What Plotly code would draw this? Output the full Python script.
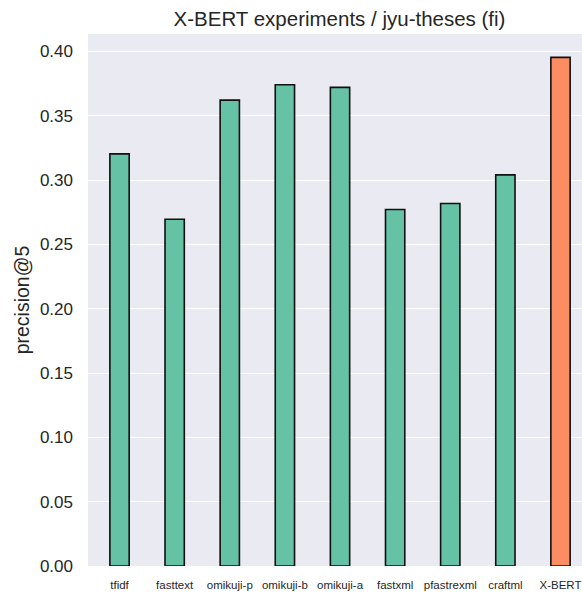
import plotly.graph_objects as go

methods = ["tfidf", "fasttext", "omikuji-p", "omikuji-b", "omikuji-a",
           "fastxml", "pfastrexml", "craftml", "X-BERT"]
precision_at_5 = [0.3203, 0.2695, 0.3621, 0.3741, 0.3720,
                  0.2771, 0.2817, 0.3040, 0.3953]
bar_colors = ["#66c2a5"] * 8 + ["#fc8d62"]
y_ticks = [0.00, 0.05, 0.10, 0.15, 0.20, 0.25, 0.30, 0.35, 0.40]

W, H = 582, 592
FONT = "Liberation Sans, Arial, sans-serif"
TXT = "#262626"

fig = go.Figure(go.Bar(
    x=list(range(len(methods))),
    y=precision_at_5,
    width=0.35,
    marker=dict(color=bar_colors, line=dict(color="#111111", width=1.6)),
))

fig.update_layout(
    width=W, height=H,
    margin=dict(l=88, r=0, t=34, b=26),
    paper_bgcolor="white",
    plot_bgcolor="#EAEAF2",
    showlegend=False,
    font=dict(family=FONT, color=TXT),
    title=dict(text="X-BERT experiments / jyu-theses (fi)",
               font=dict(size=20.5, color=TXT, family=FONT),
               x=339.5 / W, xanchor="center", xref="container",
               y=1 - 19 / H, yanchor="middle", yref="container"),
    xaxis=dict(
        tickmode="array",
        tickvals=list(range(len(methods))),
        ticktext=methods,
        range=[-0.572, 8.39],
        showgrid=False, zeroline=False, showline=False,
        ticks="", tickfont=dict(size=11.5, color=TXT),
        ticklabelstandoff=10,
    ),
    yaxis=dict(
        range=[0, 0.4135],
        tickmode="array",
        tickvals=y_ticks,
        ticktext=[f"{v:.2f}" for v in y_ticks],
        showgrid=True, gridcolor="white", gridwidth=1.2,
        zeroline=False, showline=False, ticks="",
        tickfont=dict(size=17, color=TXT),
        ticklabelstandoff=14,
        title=dict(text="precision@5", font=dict(size=19.5, color=TXT), standoff=5),
    ),
)

fig.write_html(
    "out.html",
    config={"displayModeBar": False},
    post_script="document.body.style.margin='0';document.body.style.overflow='hidden';",
)
